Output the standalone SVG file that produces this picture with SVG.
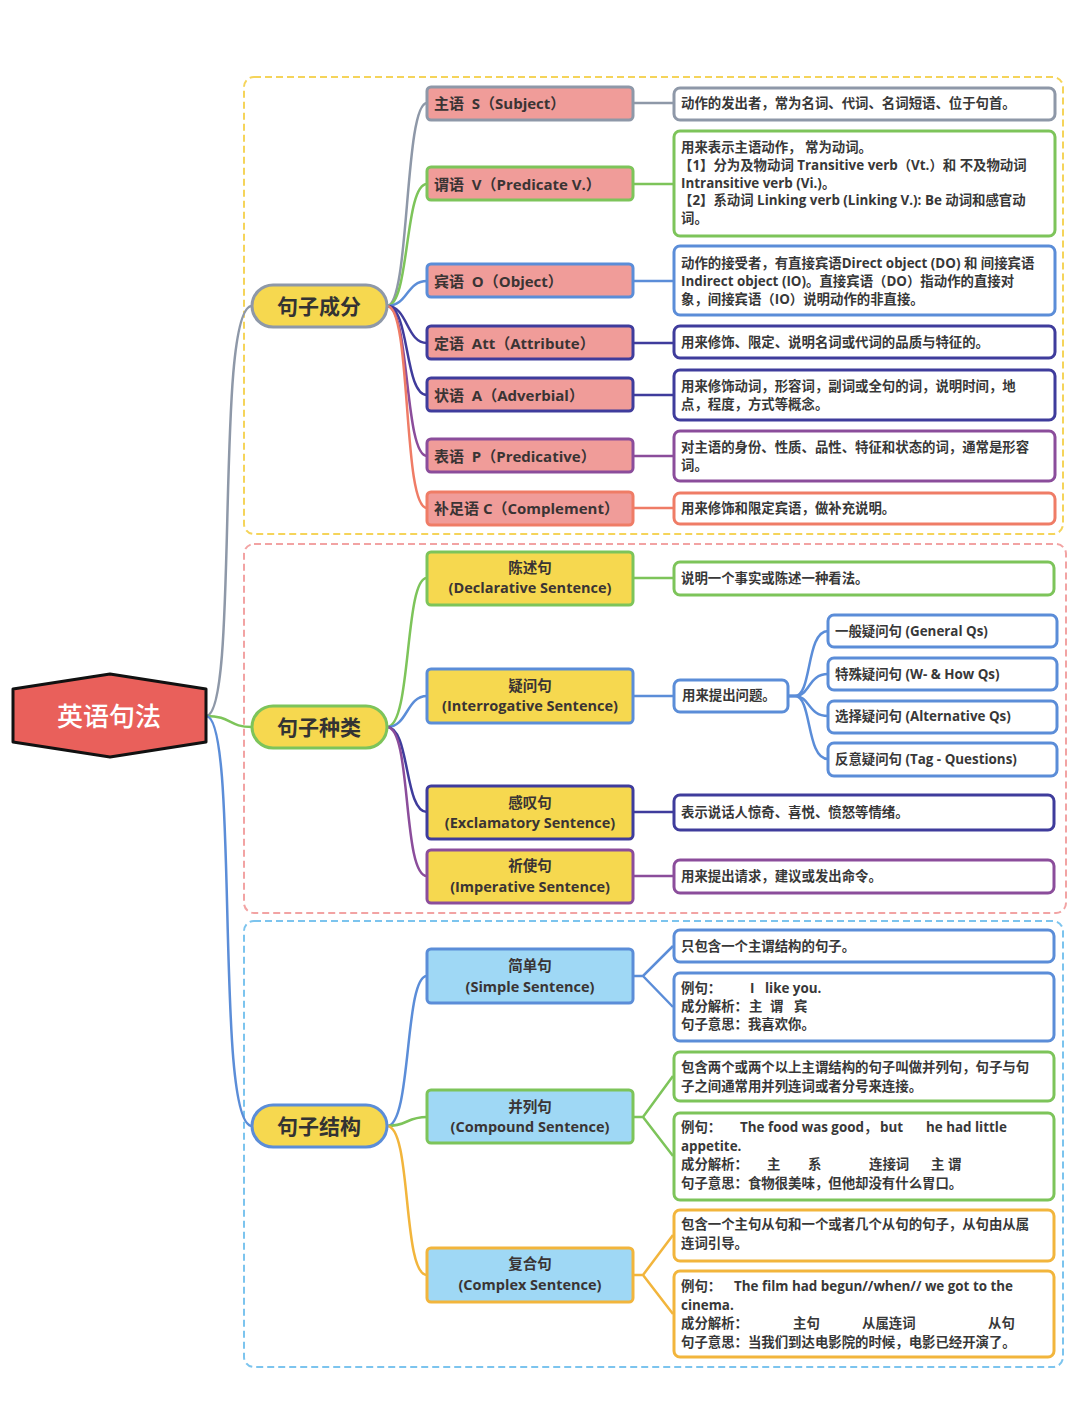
<svg xmlns="http://www.w3.org/2000/svg" width="1080" height="1409" viewBox="0 0 1080 1409">
<style>
text{font-family:"Open Sans","Noto Sans CJK SC","Noto Sans",sans-serif;fill:#333;dominant-baseline:central}
.d{font-size:13.4px;font-weight:700;fill:#383838}
.l2{font-size:15px;font-weight:700;fill:#3a3434}
.l2c{font-size:14.5px;font-weight:700;fill:#3a3434;text-anchor:middle}
.l1{font-size:21px;font-weight:700;fill:#333;text-anchor:middle}
.box{fill:#fff;stroke-width:3}
.sec{fill:none;stroke-width:2;stroke-dasharray:7 4}
.c{fill:none;stroke-width:2.5}
.pink{fill:#F09C99;stroke-width:3}
.yel{fill:#F6D84F;stroke-width:3}
.blu{fill:#9FD8F5;stroke-width:3}
.gr{stroke:#8E98A8}.gn{stroke:#7DC45A}.bl{stroke:#5B8DD8}.nv{stroke:#3F3C9C}.pu{stroke:#8B4D9B}.sa{stroke:#EF7C66}.or{stroke:#F2B53C}
</style>
<rect width="1080" height="1409" fill="#fff"/>
<g id="sections">
<rect class="sec" x="244" y="77" width="819" height="457" rx="10" stroke="#F5D45A"/>
<rect class="sec" x="244" y="544" width="822" height="369" rx="10" stroke="#F2A3A3"/>
<rect class="sec" x="244" y="921" width="819" height="446" rx="10" stroke="#7CC4EE"/>
</g>
<g id="connectors">
<path class="c gr" d="M206,716 C240,716 214,306 252,306"/>
<path class="c gn" d="M206,716 C232,716 228,727 252,727"/>
<path class="c bl" d="M206,716 C240,716 214,1126 252,1126"/>
<path class="c gr" d="M387,306 C410,306 404,103 427,103"/>
<path class="c gn" d="M387,306 C410,306 404,184 427,184"/>
<path class="c bl" d="M387,306 C408,306 406,281 427,281"/>
<path class="c nv" d="M387,306 C408,306 406,343 427,343"/>
<path class="c nv" d="M387,306 C410,306 404,395 427,395"/>
<path class="c pu" d="M387,306 C410,306 404,456 427,456"/>
<path class="c sa" d="M387,306 C412,306 402,508 427,508"/>
<path class="c gr" d="M633,103 H674"/>
<path class="c gn" d="M633,184 H674"/>
<path class="c bl" d="M633,281 H674"/>
<path class="c nv" d="M633,343 H674"/>
<path class="c nv" d="M633,395 H674"/>
<path class="c pu" d="M633,456 H674"/>
<path class="c sa" d="M633,508 H674"/>
<path class="c gn" d="M387,727 C412,727 404,578 427,578"/>
<path class="c bl" d="M387,727 C408,727 406,696 427,696"/>
<path class="c nv" d="M387,727 C410,727 404,812 427,812"/>
<path class="c pu" d="M387,727 C412,727 402,876 427,876"/>
<path class="c gn" d="M633,578 H674"/>
<path class="c bl" d="M633,696 H674"/>
<path class="c nv" d="M633,812 H674"/>
<path class="c pu" d="M633,876 H674"/>
<path class="c bl" d="M788,696 H795 C812,696 806,631 828,631"/>
<path class="c bl" d="M788,696 H795 C810,696 808,674 828,674"/>
<path class="c bl" d="M788,696 H795 C810,696 808,716 828,716"/>
<path class="c bl" d="M788,696 H795 C812,696 806,759 828,759"/>
<path class="c bl" d="M387,1126 C412,1126 404,976 427,976"/>
<path class="c gn" d="M387,1126 C408,1126 406,1117 427,1117"/>
<path class="c or" d="M387,1126 C412,1126 402,1275 427,1275"/>
<path class="c bl" d="M633,976 H643 L673,946 M643,976 L673,1007"/>
<path class="c gn" d="M633,1117 H643 L673,1076 M643,1117 L673,1156"/>
<path class="c or" d="M633,1275 H643 L673,1235 M643,1275 L673,1314"/>
</g>
<g id="root">
<polygon points="13,689 110,674 206,689 206,742 110,757 13,742" fill="#E9605B" stroke="#111" stroke-width="3" stroke-linejoin="round"/>
<text x="109" y="716" text-anchor="middle" font-size="26" font-weight="500" style="fill:#fff">英语句法</text>
</g>
<g id="n-chengfen"><rect class="yel gr" x="252" y="285" width="135" height="42" rx="21"/><text class="l1" x="319" y="306">句子成分</text></g>
<g id="n-zhonglei"><rect class="yel gn" x="252" y="706" width="135" height="42" rx="21"/><text class="l1" x="319" y="727">句子种类</text></g>
<g id="n-jiegou"><rect class="yel bl" x="252" y="1105" width="135" height="42" rx="21"/><text class="l1" x="319" y="1126">句子结构</text></g>

<g id="n-s"><rect class="pink gr" x="427" y="87" width="206" height="33" rx="4"/><text class="l2" x="434" y="103">主语&#160;&#160;S（Subject）</text></g>
<g id="n-v"><rect class="pink gn" x="427" y="167" width="206" height="33" rx="4"/><text class="l2" x="434" y="184">谓语&#160;&#160;V（Predicate V.）</text></g>
<g id="n-o"><rect class="pink bl" x="427" y="264" width="206" height="33" rx="4"/><text class="l2" x="434" y="281">宾语&#160;&#160;O（Object）</text></g>
<g id="n-att"><rect class="pink nv" x="427" y="326" width="206" height="33" rx="4"/><text class="l2" x="434" y="343">定语&#160;&#160;Att（Attribute）</text></g>
<g id="n-a"><rect class="pink nv" x="427" y="378" width="206" height="33" rx="4"/><text class="l2" x="434" y="395">状语&#160;&#160;A（Adverbial）</text></g>
<g id="n-p"><rect class="pink pu" x="427" y="439" width="206" height="33" rx="4"/><text class="l2" x="434" y="456">表语&#160;&#160;P（Predicative）</text></g>
<g id="n-c"><rect class="pink sa" x="427" y="492" width="206" height="33" rx="4"/><text class="l2" x="434" y="508">补足语 C（Complement）</text></g>

<g id="d-s"><rect class="box gr" x="674" y="88" width="381" height="32" rx="6"/><text class="d" x="681" y="103">动作的发出者，常为名词、代词、名词短语、位于句首。</text></g>
<g id="d-v"><rect class="box gn" x="674" y="131" width="381" height="105" rx="6"/>
<text class="d" x="681" y="147">用来表示主语动作， 常为动词。</text>
<text class="d" x="679" y="165">【1】分为及物动词 Transitive verb（Vt.）和 不及物动词</text>
<text class="d" x="681" y="183">Intransitive verb (Vi.)。</text>
<text class="d" x="679" y="200">【2】系动词 Linking verb (Linking V.): Be 动词和感官动</text>
<text class="d" x="681" y="218">词。</text></g>
<g id="d-o"><rect class="box bl" x="674" y="246" width="381" height="69" rx="6"/>
<text class="d" x="681" y="263">动作的接受者，有直接宾语Direct object (DO) 和 间接宾语</text>
<text class="d" x="681" y="281">Indirect object (IO)。直接宾语（DO）指动作的直接对</text>
<text class="d" x="681" y="299">象，间接宾语（IO）说明动作的非直接。</text></g>
<g id="d-att"><rect class="box nv" x="674" y="326" width="381" height="32" rx="6"/><text class="d" x="681" y="342">用来修饰、限定、说明名词或代词的品质与特征的。</text></g>
<g id="d-a"><rect class="box nv" x="674" y="370" width="381" height="50" rx="6"/>
<text class="d" x="681" y="386">用来修饰动词，形容词，副词或全句的词，说明时间，地</text>
<text class="d" x="681" y="404">点，程度，方式等概念。</text></g>
<g id="d-p"><rect class="box pu" x="674" y="431" width="381" height="50" rx="6"/>
<text class="d" x="681" y="447">对主语的身份、性质、品性、特征和状态的词，通常是形容</text>
<text class="d" x="681" y="465">词。</text></g>
<g id="d-c"><rect class="box sa" x="674" y="493" width="381" height="31" rx="6"/><text class="d" x="681" y="508">用来修饰和限定宾语，做补充说明。</text></g>

<g id="n-decl"><rect class="yel gn" x="427" y="552" width="206" height="53" rx="4"/><text class="l2c" x="530" y="567">陈述句</text><text class="l2c" x="530" y="587">(Declarative Sentence)</text></g>
<g id="n-inter"><rect class="yel bl" x="427" y="669" width="206" height="54" rx="4"/><text class="l2c" x="530" y="685">疑问句</text><text class="l2c" x="530" y="705">(Interrogative Sentence)</text></g>
<g id="n-excl"><rect class="yel nv" x="427" y="786" width="206" height="53" rx="4"/><text class="l2c" x="530" y="802">感叹句</text><text class="l2c" x="530" y="822">(Exclamatory Sentence)</text></g>
<g id="n-imp"><rect class="yel pu" x="427" y="850" width="206" height="53" rx="4"/><text class="l2c" x="530" y="865">祈使句</text><text class="l2c" x="530" y="886">(Imperative Sentence)</text></g>

<g id="d-decl"><rect class="box gn" x="674" y="562" width="380" height="33" rx="6"/><text class="d" x="681" y="578">说明一个事实或陈述一种看法。</text></g>
<g id="d-inter"><rect class="box bl" x="674" y="680" width="114" height="32" rx="6"/><text class="d" x="682" y="695">用来提出问题。</text></g>
<g id="q-gen"><rect class="box bl" x="828" y="615" width="229" height="32" rx="6"/><text class="d" x="835" y="631">一般疑问句 (General Qs)</text></g>
<g id="q-spe"><rect class="box bl" x="828" y="658" width="229" height="32" rx="6"/><text class="d" x="835" y="674">特殊疑问句 (W- &amp; How Qs)</text></g>
<g id="q-alt"><rect class="box bl" x="828" y="701" width="229" height="32" rx="6"/><text class="d" x="835" y="716">选择疑问句 (Alternative Qs)</text></g>
<g id="q-tag"><rect class="box bl" x="828" y="743" width="229" height="33" rx="6"/><text class="d" x="835" y="759">反意疑问句 (Tag - Questions)</text></g>
<g id="d-excl"><rect class="box nv" x="674" y="795" width="380" height="35" rx="6"/><text class="d" x="681" y="812">表示说话人惊奇、喜悦、愤怒等情绪。</text></g>
<g id="d-imp"><rect class="box pu" x="674" y="860" width="380" height="33" rx="6"/><text class="d" x="681" y="876">用来提出请求，建议或发出命令。</text></g>

<g id="n-simple"><rect class="blu bl" x="427" y="949" width="206" height="54" rx="4"/><text class="l2c" x="530" y="965">简单句</text><text class="l2c" x="530" y="986">(Simple Sentence)</text></g>
<g id="n-compound"><rect class="blu gn" x="427" y="1090" width="206" height="53" rx="4"/><text class="l2c" x="530" y="1106">并列句</text><text class="l2c" x="530" y="1126">(Compound Sentence)</text></g>
<g id="n-complex"><rect class="blu or" x="427" y="1248" width="206" height="54" rx="4"/><text class="l2c" x="530" y="1263">复合句</text><text class="l2c" x="530" y="1284">(Complex Sentence)</text></g>

<g id="d-simple1"><rect class="box bl" x="674" y="930" width="380" height="32" rx="6"/><text class="d" x="681" y="946">只包含一个主谓结构的句子。</text></g>
<g id="d-simple2"><rect class="box bl" x="674" y="973" width="380" height="68" rx="6"/>
<text class="d" x="681" y="988">例句：</text><text class="d" x="750" y="988">I</text><text class="d" x="765" y="988">like you.</text>
<text class="d" x="681" y="1006">成分解析：</text><text class="d" x="749" y="1006">主</text><text class="d" x="770" y="1006">谓</text><text class="d" x="794" y="1006">宾</text>
<text class="d" x="681" y="1024">句子意思：我喜欢你。</text></g>
<g id="d-comp1"><rect class="box gn" x="674" y="1052" width="380" height="49" rx="6"/>
<text class="d" x="681" y="1067">包含两个或两个以上主谓结构的句子叫做并列句，句子与句</text>
<text class="d" x="681" y="1086">子之间通常用并列连词或者分号来连接。</text></g>
<g id="d-comp2"><rect class="box gn" x="674" y="1113" width="380" height="87" rx="6"/>
<text class="d" x="681" y="1127">例句：</text><text class="d" x="740" y="1127">The food was good，</text><text class="d" x="880" y="1127">but</text><text class="d" x="926" y="1127">he had little</text>
<text class="d" x="681" y="1146">appetite.</text>
<text class="d" x="681" y="1164">成分解析：</text><text class="d" x="767" y="1164">主</text><text class="d" x="808" y="1164">系</text><text class="d" x="869" y="1164">连接词</text><text class="d" x="931" y="1164">主</text><text class="d" x="948" y="1164">谓</text>
<text class="d" x="681" y="1183">句子意思：食物很美味，但他却没有什么胃口。</text></g>
<g id="d-cx1"><rect class="box or" x="674" y="1210" width="380" height="51" rx="6"/>
<text class="d" x="681" y="1224">包含一个主句从句和一个或者几个从句的句子，从句由从属</text>
<text class="d" x="681" y="1243">连词引导。</text></g>
<g id="d-cx2"><rect class="box or" x="674" y="1271" width="380" height="86" rx="6"/>
<text class="d" x="681" y="1286">例句：</text><text class="d" x="734" y="1286">The film had begun//when// we got to the</text>
<text class="d" x="681" y="1305">cinema.</text>
<text class="d" x="681" y="1323">成分解析：</text><text class="d" x="793" y="1323">主句</text><text class="d" x="862" y="1323">从属连词</text><text class="d" x="988" y="1323">从句</text>
<text class="d" x="681" y="1342">句子意思：当我们到达电影院的时候，电影已经开演了。</text></g>
</svg>
